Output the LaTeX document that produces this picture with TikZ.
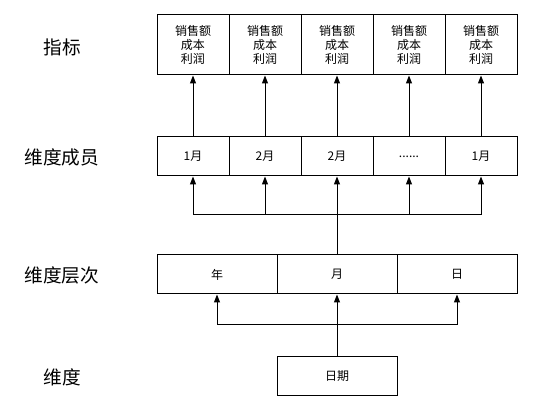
\documentclass[tikz,border=0pt]{standalone}
\usepackage{fontspec}
\setmainfont{Noto Sans CJK SC}
\usetikzlibrary{arrows.meta}
\begin{document}
\begin{tikzpicture}[x=0.75pt,y=-0.75pt,
  box/.style={draw,line width=0.75pt,rectangle,inner sep=0pt,align=center,font=\fontsize{9}{10.2}\selectfont},
  metric/.style={box,minimum width=54pt,minimum height=45pt},
  member/.style={box,minimum width=54pt,minimum height=29.25pt},
  level/.style={box,minimum width=90pt,minimum height=29.25pt},
  lbl/.style={font=\fontsize{14}{16}\selectfont},
  conn/.style={line width=0.75pt},
  arr/.style={conn,-{Triangle[length=6pt,width=4.5pt]}}]
\useasboundingbox (0,0) rectangle (533,413);
% labels
\node[lbl] (l1) at (62,47) {指标};
\node[lbl] (l2) at (62,157) {维度成员};
\node[lbl] (l3) at (62,275) {维度层次};
\node[lbl] (l4) at (62,377) {维度};
% metrics
\foreach \i/\x in {1/193,2/265,3/337,4/409,5/481}{
  \node[metric] (m\i) at (\x,45) {销售额\\成本\\利润};
}
% members
\node[member] (c1) at (193,156.5) {1月};
\node[member] (c2) at (265,156.5) {2月};
\node[member] (c3) at (337,156.5) {2月};
\node[member] (c4) at (409,156.5) {......};
\node[member] (c5) at (481,156.5) {1月};
% hierarchy
\node[level] (h1) at (217,274.5) {年};
\node[level] (h2) at (337,274.5) {月};
\node[level] (h3) at (457,274.5) {日};
% date
\node[level] (d) at (337,376.5) {日期};
% member -> metric
\foreach \i in {1,...,5}{ \draw[arr] (c\i.north) -- (m\i.south); }
% hierarchy -> members
\coordinate (j1) at (337,215);
\draw[conn] (h2.north) -- (j1);
\draw[arr] (j1) -- (c3.south);
\foreach \i in {1,2,4,5}{ \draw[arr] (j1) -| (c\i.south); }
% date -> hierarchy
\coordinate (j2) at (337,325);
\draw[conn] (d.north) -- (j2);
\draw[arr] (j2) -- (h2.south);
\draw[arr] (j2) -| (h1.south);
\draw[arr] (j2) -| (h3.south);
\end{tikzpicture}
\end{document}
